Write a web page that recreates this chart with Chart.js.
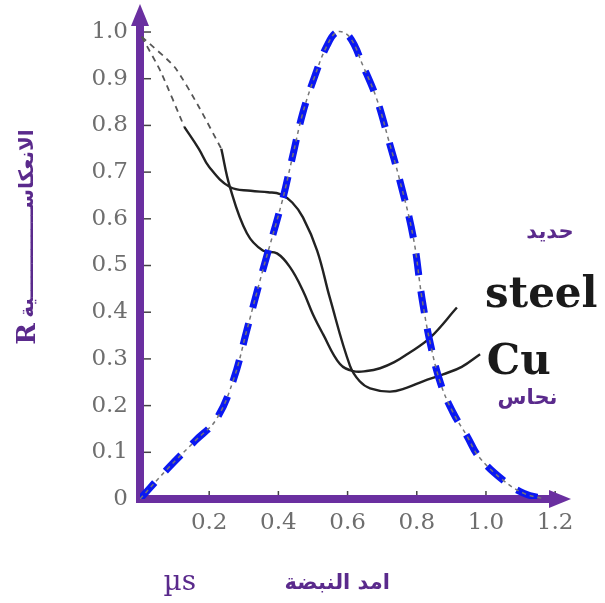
<!DOCTYPE html>
<html>
<head>
<meta charset="utf-8">
<script src="https://cdn.jsdelivr.net/npm/chart.js@4/dist/chart.umd.min.js"></script>
<style>
  html, body { margin: 0; padding: 0; background: #fff; }
</style>
</head>
<body>
<canvas id="chart" width="605" height="603"></canvas>
<script>
// pulse shape (blue)
const pulseX = [0, 0.08, 0.16, 0.22, 0.27, 0.31, 0.355, 0.41, 0.44, 0.47, 0.505, 0.54, 0.57, 0.605, 0.645, 0.685, 0.72, 0.75, 0.79, 0.815, 0.84, 0.87, 0.905, 0.945, 0.98, 1.05, 1.11, 1.17]
const pulseY = [0, 0.065, 0.125, 0.17, 0.255, 0.365, 0.49, 0.635, 0.73, 0.825, 0.905, 0.97, 1.0, 0.99, 0.927, 0.855, 0.765, 0.685, 0.56, 0.43, 0.33, 0.245, 0.185, 0.135, 0.09, 0.04, 0.012, 0]

// steel reflectivity
const steelDashX = [0.005, 0.1, 0.17, 0.235]
const steelDashY = [0.99, 0.925, 0.84, 0.75]
const steelX = [0.235, 0.26, 0.309, 0.355, 0.396, 0.434, 0.471, 0.5, 0.529, 0.578, 0.616, 0.655, 0.694, 0.735, 0.772, 0.838, 0.916]
const steelY = [0.75, 0.668, 0.569, 0.532, 0.526, 0.496, 0.446, 0.395, 0.353, 0.289, 0.274, 0.274, 0.28, 0.293, 0.31, 0.345, 0.41]

// copper reflectivity
const cuDashX = [0.005, 0.06, 0.128]
const cuDashY = [0.99, 0.915, 0.797]
const cuX = [0.128, 0.17, 0.2, 0.26, 0.32, 0.37, 0.405, 0.44, 0.471, 0.512, 0.549, 0.607, 0.635, 0.665, 0.723, 0.77, 0.818, 0.876, 0.93, 0.983]
const cuY = [0.797, 0.75, 0.711, 0.668, 0.66, 0.657, 0.653, 0.635, 0.603, 0.532, 0.43, 0.285, 0.252, 0.237, 0.23, 0.238, 0.252, 0.267, 0.283, 0.31]

const yTicks = [0, 0.1, 0.2, 0.3, 0.4, 0.5, 0.6, 0.7, 0.8, 0.9, 1.0]
const xTicks = [0.2, 0.4, 0.6, 0.8, 1.0, 1.2]

const purple = '#6a2fa0'
const textPurple = '#5a2a8c'
const blue = '#0a18f2'

const toPoints = (xs, ys) => xs.map((v, i) => ({ x: v, y: ys[i] }))

const line = (ctx, x1, y1, x2, y2) => {
  ctx.beginPath()
  ctx.moveTo(x1, y1)
  ctx.lineTo(x2, y2)
  ctx.stroke()
}

const decor = {
  id: 'decor',
  beforeDatasetsDraw (chart) {
    const { ctx, chartArea, scales: { x, y } } = chart
    const x0 = x.getPixelForValue(0)
    const y0 = y.getPixelForValue(0)
    ctx.save()

    // small tick marks inside the axes
    ctx.strokeStyle = '#444'
    ctx.lineWidth = 1.5
    yTicks.forEach(v => {
      if (v === 0) return
      const py = y.getPixelForValue(v)
      line(ctx, x0, py, x0 + 11, py)
    })
    xTicks.forEach(v => {
      const px = x.getPixelForValue(v)
      line(ctx, px, y0, px, y0 - 8)
    })

    // axes with arrows
    ctx.strokeStyle = purple
    ctx.fillStyle = purple
    ctx.lineWidth = 8
    line(ctx, x0, y0 + 4, x0, chartArea.top + 16)
    line(ctx, x0 - 4, y0, chartArea.right - 16, y0)

    ctx.beginPath()
    ctx.moveTo(x0, chartArea.top)
    ctx.lineTo(x0 - 9, chartArea.top + 22)
    ctx.lineTo(x0 + 9, chartArea.top + 22)
    ctx.closePath()
    ctx.fill()

    ctx.beginPath()
    ctx.moveTo(chartArea.right + 2, y0)
    ctx.lineTo(chartArea.right - 20, y0 - 9)
    ctx.lineTo(chartArea.right - 20, y0 + 9)
    ctx.closePath()
    ctx.fill()
    ctx.restore()
  },
  afterDraw (chart) {
    const { ctx, scales: { x, y } } = chart
    const put = (text, vx, vy, font, color) => {
      ctx.font = font
      ctx.fillStyle = color
      ctx.fillText(text, x.getPixelForValue(vx), y.getPixelForValue(vy))
    }
    ctx.save()
    ctx.textAlign = 'center'
    ctx.textBaseline = 'middle'

    put('حديد', 1.185, 0.57, 'bold 21px "DejaVu Sans"', textPurple)
    put('steel', 1.16, 0.435, 'bold 42px "DejaVu Serif"', '#1a1a1a')
    put('Cu', 1.095, 0.29, 'bold 42px "DejaVu Serif"', '#1a1a1a')
    put('نحاس', 1.12, 0.215, 'bold 21px "DejaVu Sans"', textPurple)

    put('µs', 0.115, -0.18, '28px "DejaVu Serif"', textPurple)
    put('امد النبضة', 0.57, -0.18, 'bold 21px "DejaVu Sans"', textPurple)

    // vertical axis title
    ctx.translate(x.getPixelForValue(-0.323), y.getPixelForValue(0.555))
    ctx.rotate(-Math.PI / 2)
    ctx.font = 'bold 26px "DejaVu Serif"'
    ctx.fillStyle = textPurple
    ctx.textAlign = 'left'
    ctx.fillText('R', -105, 0)
    ctx.font = 'bold 20px "DejaVu Sans"'
    ctx.fillText('الانعكاســـــــــــــية', -78, 0)
    ctx.restore()
  }
}

const curve = {
  showLine: true,
  pointRadius: 0,
  tension: 0.4
}

const ctx = document.getElementById('chart').getContext('2d')
new Chart(ctx, {
  type: 'scatter',
  data: {
    datasets: [
      { ...curve, data: toPoints(pulseX, pulseY), borderColor: '#777', borderWidth: 1.5, borderDash: [4, 4] },
      { ...curve, data: toPoints(pulseX, pulseY), borderColor: blue, borderWidth: 7, borderDash: [22, 16] },
      { ...curve, data: toPoints(steelDashX, steelDashY), borderColor: '#555', borderWidth: 1.8, borderDash: [6, 5], tension: 0.2 },
      { ...curve, data: toPoints(cuDashX, cuDashY), borderColor: '#555', borderWidth: 1.8, borderDash: [6, 5], tension: 0.2 },
      { ...curve, data: toPoints(steelX, steelY), borderColor: '#222', borderWidth: 2.4 },
      { ...curve, data: toPoints(cuX, cuY), borderColor: '#222', borderWidth: 2.4 }
    ]
  },
  options: {
    responsive: false,
    animation: false,
    layout: { padding: { left: 0, top: 4, right: 36, bottom: 0 } },
    plugins: { legend: { display: false }, tooltip: { enabled: false } },
    scales: {
      x: {
        type: 'linear',
        min: 0,
        max: 1.24,
        afterFit: s => {
          s.height = 104
          s.paddingLeft = 0
          s.paddingRight = 0
        },
        afterBuildTicks: s => { s.ticks = xTicks.map(v => ({ value: v })) },
        grid: { display: false, drawTicks: false },
        border: { display: false },
        ticks: {
          padding: 10,
          color: '#6e6e6e',
          font: { family: 'DejaVu Serif', size: 23 },
          maxRotation: 0,
          callback: v => v.toFixed(1)
        }
      },
      y: {
        type: 'linear',
        min: 0,
        max: 1.06,
        afterFit: s => {
          s.width = 140
          s.paddingTop = 0
          s.paddingBottom = 0
        },
        afterBuildTicks: s => { s.ticks = yTicks.map(v => ({ value: v })) },
        grid: { display: false, drawTicks: false },
        border: { display: false },
        ticks: {
          padding: 12,
          color: '#6e6e6e',
          font: { family: 'DejaVu Serif', size: 23 },
          callback: v => v === 0 ? '0' : v.toFixed(1)
        }
      }
    }
  },
  plugins: [decor]
})
</script>
</body>
</html>
